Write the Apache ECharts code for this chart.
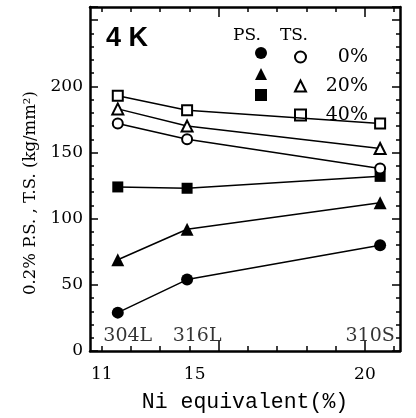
<!DOCTYPE html>
<html><head><meta charset="utf-8">
<script src="https://cdn.jsdelivr.net/npm/echarts@6/dist/echarts.min.js"></script>
<style>html,body{margin:0;padding:0;background:#fff}#c{width:416px;height:418px}</style>
</head><body><div id="c"></div>
<script>
// Data
const grades = ['304L', '316L', '310S'];
const niEquiv = [11.55, 13.92, 20.52];
const ps0 = [29, 54, 80];
const ps20 = [69, 92, 112];
const ps40 = [124, 123, 132];
const ts0 = [172, 160, 138];
const ts20 = [183, 170, 153];
const ts40 = [193, 182, 172];
const xTickLabels = [11, 15, 20];
const yTickLabels = [0, 50, 100, 150, 200];
const xMinorTicks = [11, 12, 13, 14, 15, 16, 17, 18, 19, 20, 21];
const xMajorTicks = [15, 20];
const gradeLabelY = 11;

const pts = arr => arr.map((v, i) => [niEquiv[i], v]);
const serif = 'DejaVu Serif';
const X_MIN = 10.6, X_MAX = 21.2, Y_MAX = 260;

function mk(name, data, symbol, filled, size) {
  return {
    name, type: 'line', data: pts(data), symbol, symbolSize: size,
    xAxisIndex: 0, yAxisIndex: 0,
    lineStyle: { color: '#000', width: 1.5 },
    itemStyle: filled ? { color: '#000', borderColor: '#000', borderWidth: 0 }
                      : { color: '#fff', borderColor: '#000', borderWidth: 2 },
    emphasis: { disabled: true }, animation: false, z: filled ? 3 : 4
  };
}
const series = [
  mk('PS 0%', ps0, 'circle', true, 12),
  mk('PS 20%', ps20, 'triangle', true, 13),
  mk('PS 40%', ps40, 'rect', true, 11),
  mk('TS 0%', ts0, 'circle', false, 10),
  mk('TS 20%', ts20, 'triangle', false, 11),
  mk('TS 40%', ts40, 'rect', false, 10),
  {
    name: 'grades', type: 'scatter', symbolSize: 0, animation: false,
    data: grades.map((g, i) => ({ value: [niEquiv[i], gradeLabelY], name: g,
      label: { offset: [i === 2 ? -10 : 10, 0] } })),
    label: { show: true, position: 'inside', formatter: p => p.name,
      color: '#000', fontFamily: serif, fontSize: 19 },
    silent: true
  }
];

const xBase = { type: 'value', min: X_MIN, max: X_MAX, gridIndex: 0, splitLine: { show: false } };
const chart = echarts.init(document.getElementById('c'));
chart.setOption({
  animation: false,
  title: { text: '4 K', left: 101, top: 20,
    textStyle: { fontFamily: 'Liberation Sans', fontWeight: 'bold', fontSize: 27, color: '#000' } },
  graphic: [
    { type: 'text', left: 233, top: 27, style: { text: 'PS.', font: '17px "DejaVu Serif"', fill: '#000' } },
    { type: 'text', left: 280, top: 27, style: { text: 'TS.', font: '17px "DejaVu Serif"', fill: '#000' } }
  ],
  legend: [
    { data: series.slice(0, 3).map(s => ({ name: s.name, icon: s.symbol })),
      orient: 'vertical', left: 250, top: 42, itemWidth: 12, itemHeight: 12, itemGap: 9,
      formatter: () => '', selectedMode: false,
      textStyle: { fontSize: 12, lineHeight: 12 } },
    { data: series.slice(3, 6).map(s => ({ name: s.name, icon: s.symbol })),
      orient: 'vertical', left: 289, top: 42.5, itemWidth: 11, itemHeight: 11, itemGap: 10,
      itemStyle: { borderWidth: 2 },
      formatter: n => '{a|' + n.split(' ')[1] + '}', selectedMode: false,
      textStyle: { fontSize: 11, lineHeight: 11, fontFamily: serif, color: '#000',
        rich: { a: { width: 57, height: 11, lineHeight: 11, align: 'right', fontSize: 19, fontFamily: serif, color: '#000' } } } }
  ],
  grid: { left: 90, right: 16, top: 7, bottom: 58, containLabel: false },
  xAxis: [
    Object.assign({}, xBase, { position: 'bottom',
      name: 'Ni equivalent(%)', nameLocation: 'middle', nameGap: 40,
      nameTextStyle: { fontFamily: 'Liberation Mono', fontSize: 21.5, color: '#000' },
      axisLine: { lineStyle: { color: '#000', width: 2.5 } },
      axisTick: { inside: true, length: 5, customValues: xMinorTicks, lineStyle: { color: '#000', width: 1.5 } },
      axisLabel: { customValues: xTickLabels, margin: 15, color: '#000', fontFamily: serif, fontSize: 17,
        formatter: v => v === 15 ? '{s|15}' : String(v),
        rich: { s: { padding: [0, 48, 0, 0], fontFamily: serif, fontSize: 17, color: '#000' } } } }),
    Object.assign({}, xBase, { position: 'bottom', axisLine: { show: false },
      axisTick: { inside: true, length: 10, customValues: xMajorTicks, lineStyle: { color: '#000', width: 1.5 } },
      axisLabel: { show: false } }),
    Object.assign({}, xBase, { position: 'top',
      axisLine: { lineStyle: { color: '#000', width: 2.5 } },
      axisTick: { inside: true, length: 5, customValues: xMinorTicks, lineStyle: { color: '#000', width: 1.5 } },
      axisLabel: { show: false } }),
    Object.assign({}, xBase, { position: 'top', axisLine: { show: false },
      axisTick: { inside: true, length: 10, customValues: xMajorTicks, lineStyle: { color: '#000', width: 1.5 } },
      axisLabel: { show: false } })
  ],
  yAxis: [
    { type: 'value', min: 0, max: Y_MAX, interval: 50, position: 'left', splitLine: { show: false },
      name: '0.2% P.S. , T.S. (kg/mm²)', nameLocation: 'middle', nameGap: 30,
      nameTextStyle: { fontFamily: serif, fontSize: 16.5, color: '#000', padding: [0, 28, 0, 0] },
      axisLine: { lineStyle: { color: '#000', width: 2.5 } },
      axisTick: { inside: true, length: 8, lineStyle: { color: '#000', width: 1.5 } },
      minorTick: { show: true, splitNumber: 5, length: 4, lineStyle: { color: '#000', width: 1.5 } },
      axisLabel: { customValues: yTickLabels, margin: 7, color: '#000', fontFamily: serif, fontSize: 17 } },
    { type: 'value', min: 0, max: Y_MAX, interval: 50, position: 'right', splitLine: { show: false },
      axisLine: { lineStyle: { color: '#000', width: 2.5 } },
      axisTick: { inside: true, length: 8, lineStyle: { color: '#000', width: 1.5 } },
      minorTick: { show: true, splitNumber: 5, length: 4, lineStyle: { color: '#000', width: 1.5 } },
      axisLabel: { show: false } }
  ],
  series
});
</script></body></html>
